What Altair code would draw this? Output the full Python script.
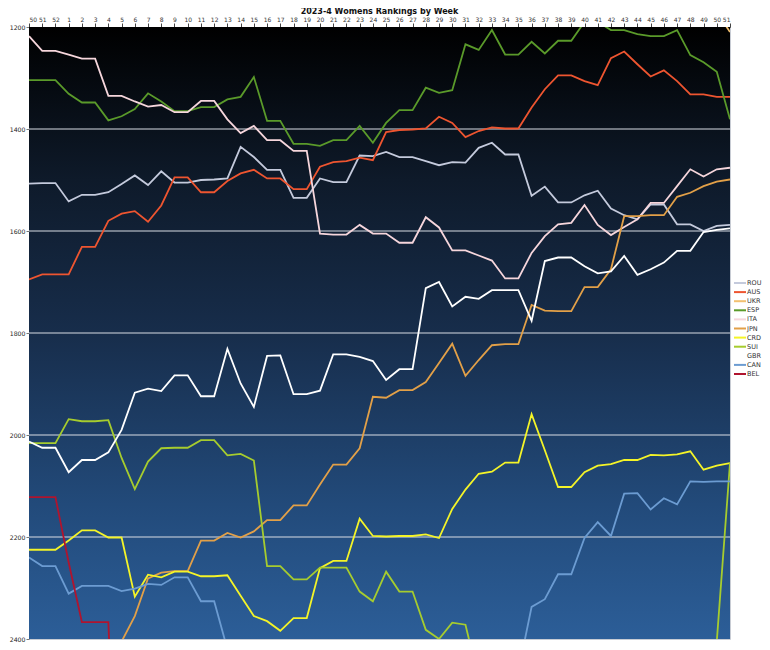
import altair as alt
import pandas as pd

WEEKS = ["50", "51", "52", "1", "2", "3", "4", "5", "6", "7", "8", "9", "10", "11",
         "12", "13", "14", "15", "16", "17", "18", "19", "20", "21", "22", "23", "24",
         "25", "26", "27", "28", "29", "30", "31", "32", "33", "34", "35", "36", "37",
         "38", "39", "40", "41", "42", "43", "44", "45", "46", "47", "48", "49", "50", "51"]

COUNTRIES = ["ROU", "AUS", "UKR", "ESP", "ITA", "JPN", "CRD", "SUI", "GBR", "CAN", "BEL"]
COLORS = ["#c4cadc", "#ee5530", "#f2c070", "#5a9a2a", "#f6d6dc", "#e2a048",
          "#f4f428", "#a6cc2e", "#ffffff", "#6c9cd2", "#b0142e"]

N = None
ROU = [1507, 1506, 1506, 1542, 1529, 1529, 1524, 1508, 1491, 1510, 1483, 1505, 1505, 1500,
       1499, 1497, 1435, 1455, 1480, 1480, 1535, 1535, 1497, 1504, 1504, 1452, 1453, 1445,
       1455, 1455, 1463, 1471, 1465, 1466, 1437, 1427, 1450, 1450, 1531, 1513, 1544, 1544,
       1530, 1521, 1556, 1569, 1577, 1548, 1548, 1587, 1587, 1600, 1590, 1588]
AUS = [1695, 1685, 1685, 1685, 1631, 1631, 1580, 1566, 1561, 1582, 1550, 1495, 1495, 1524,
       1524, 1502, 1487, 1480, 1497, 1497, 1518, 1518, 1474, 1465, 1463, 1456, 1461, 1406,
       1402, 1401, 1399, 1376, 1388, 1416, 1404, 1397, 1399, 1399, 1358, 1322, 1295, 1295,
       1306, 1314, 1261, 1248, 1273, 1297, 1285, 1306, 1332, 1332, 1337, 1337]
UKR = [N] * 52 + [1170, 1210]
ESP = [1304, 1304, 1304, 1331, 1348, 1348, 1383, 1375, 1361, 1330, 1346, 1365, 1365, 1357,
       1357, 1342, 1337, 1298, 1384, 1384, 1429, 1429, 1433, 1422, 1422, 1394, 1427, 1388,
       1363, 1363, 1319, 1329, 1324, 1234, 1245, 1206, 1254, 1254, 1229, 1252, 1227, 1227,
       1190, 1190, 1206, 1206, 1214, 1218, 1218, 1206, 1255, 1269, 1288, 1381]
ITA = [1218, 1247, 1247, 1254, 1262, 1262, 1335, 1335, 1346, 1356, 1353, 1367, 1367, 1345,
       1345, 1381, 1408, 1394, 1422, 1422, 1443, 1443, 1605, 1607, 1607, 1588, 1605, 1605,
       1623, 1623, 1573, 1593, 1638, 1638, 1648, 1658, 1693, 1693, 1643, 1610, 1587, 1584,
       1549, 1588, 1608, 1592, 1577, 1545, 1545, 1512, 1479, 1493, 1479, 1476]
JPN = [N, N, N, N, N, N, N, 2405, 2355, 2281, 2270, 2267, 2267, 2207,
       2207, 2192, 2201, 2189, 2167, 2167, 2138, 2138, 2097, 2058, 2058, 2026, 1925, 1927,
       1912, 1912, 1896, 1859, 1821, 1884, 1853, 1824, 1822, 1822, 1745, 1756, 1757, 1757,
       1710, 1710, 1675, 1571, 1571, 1569, 1569, 1533, 1525, 1512, 1503, 1499]
CRD = [2225, 2225, 2225, 2207, 2187, 2187, 2201, 2201, 2317, 2274, 2279, 2268, 2268, 2277,
       2277, 2275, 2315, 2355, 2365, 2384, 2359, 2359, 2261, 2247, 2247, 2164, 2198, 2199,
       2198, 2198, 2195, 2202, 2145, 2107, 2076, 2072, 2054, 2054, 1959, 2030, 2102, 2102,
       2073, 2060, 2057, 2049, 2049, 2039, 2040, 2038, 2032, 2068, 2060, 2055]
SUI = [2016, 2016, 2016, 1969, 1973, 1973, 1971, 2045, 2106, 2052, 2026, 2025, 2025, 2010,
       2010, 2040, 2037, 2050, 2257, 2257, 2283, 2283, 2260, 2260, 2260, 2307, 2326, 2268,
       2307, 2307, 2382, 2400, 2368, 2372, 2480, N, N, N, N, N, N, N,
       N, N, N, N, N, N, N, N, N, N, 2405, 2055]
GBR = [2013, 2025, 2025, 2073, 2049, 2049, 2034, 1990, 1917, 1909, 1914, 1883, 1883, 1924,
       1924, 1831, 1899, 1945, 1845, 1844, 1920, 1920, 1913, 1842, 1842, 1847, 1855, 1892,
       1871, 1871, 1712, 1700, 1748, 1729, 1733, 1716, 1716, 1716, 1776, 1659, 1652, 1652,
       1669, 1683, 1679, 1649, 1686, 1675, 1662, 1639, 1639, 1602, 1598, 1595]
CAN = [2240, 2257, 2257, 2311, 2296, 2296, 2296, 2306, 2301, 2292, 2294, 2279, 2279, 2326,
       2326, 2420, N, N, N, N, N, N, N, N, N, N, N, N,
       N, N, N, N, N, N, N, N, N, 2463, 2337, 2322, 2273, 2273,
       2202, 2171, 2198, 2115, 2114, 2146, 2124, 2136, 2091, 2092, 2091, 2091]
BEL = [2122, 2122, 2122, 2250, 2367, 2367, 2367, 3000] + [N] * 46

GRID = [1400, 1600, 1800, 2000, 2200]
Y_TICKS = [1200, 1400, 1600, 1800, 2000, 2200, 2400]

SERIES = {"ROU": ROU, "AUS": AUS, "UKR": UKR, "ESP": ESP, "ITA": ITA, "JPN": JPN,
          "CRD": CRD, "SUI": SUI, "GBR": GBR, "CAN": CAN, "BEL": BEL}

rows = []
for c in COUNTRIES:
    for i, v in enumerate(SERIES[c]):
        if v is not None:
            rows.append({"idx": i, "rank": v, "team": c})
df = pd.DataFrame(rows)

W, H = 701, 612
FONT = "DejaVu Sans"
label_arr = "[" + ",".join('"%s"' % w for w in WEEKS) + "]"

xscale = alt.Scale(domain=[0, 53], nice=False, zero=False)
yscale = alt.Scale(domain=[1200, 2400], reverse=True, nice=False, zero=False)

y_axis = alt.Axis(values=Y_TICKS, format="d", labelFontSize=6.2, labelFont=FONT,
                  labelColor="#222222", tickSize=3, tickColor="#777777",
                  domainColor="#999999", labelPadding=1, grid=False, labelOverlap=False)

bg = alt.Chart(pd.DataFrame({"v": [0]})).mark_rect(
    color=alt.LinearGradient(
        gradient="linear",
        stops=[alt.GradientStop(color="#000000", offset=0),
               alt.GradientStop(color="#0e1a2a", offset=0.25),
               alt.GradientStop(color="#172d4b", offset=0.5),
               alt.GradientStop(color="#224a7a", offset=0.78),
               alt.GradientStop(color="#2c5e98", offset=1)],
        x1=0, x2=0, y1=0, y2=1)
).encode(x=alt.value(0), x2=alt.value(W), y=alt.value(0), y2=alt.value(H))

grid = alt.Chart(pd.DataFrame({"g": GRID})).mark_rule(
    color="#d8dce4", strokeWidth=1.2
).encode(y=alt.Y("g:Q", scale=yscale, title=None, axis=y_axis))

lines = alt.Chart(df).mark_line(strokeWidth=1.8, clip=True).encode(
    x=alt.X("idx:Q", scale=xscale, title=None,
            axis=alt.Axis(orient="top", values=list(range(54)),
                          labelExpr=label_arr + "[datum.value]",
                          labelFontSize=6, labelFont=FONT, labelColor="#333333",
                          tickSize=4, tickColor="#444444", domainColor="#333333",
                          labelPadding=1, grid=False, labelOverlap=False)),
    y=alt.Y("rank:Q", scale=yscale, title=None, axis=y_axis),
    color=alt.Color("team:N", scale=alt.Scale(domain=COUNTRIES, range=COLORS),
                    legend=alt.Legend(title=None, orient="none", legendX=706, legendY=251,
                                      symbolType="M-1.7,0L1.7,0", symbolStrokeWidth=2,
                                      symbolSize=50, labelFontSize=6.5, labelFont=FONT,
                                      labelColor="#333333", rowPadding=0.1,
                                      labelOffset=2)),
    detail="team:N",
    order=alt.Order("idx:Q"),
)

chart = alt.layer(bg, grid, lines).properties(
    width=W, height=H,
    title=alt.TitleParams("2023-4 Womens Rankings by Week", fontSize=8, font=FONT,
                          fontWeight="bold", color="#111111", anchor="middle", offset=0),
    autosize=alt.AutoSizeParams(type="none"),
    padding={"left": 21, "top": 19, "right": 32, "bottom": 3},
).configure_view(stroke="#c8ccd4", strokeWidth=1)

chart.save("out.html", embed_options={"renderer": "svg", "actions": False})
